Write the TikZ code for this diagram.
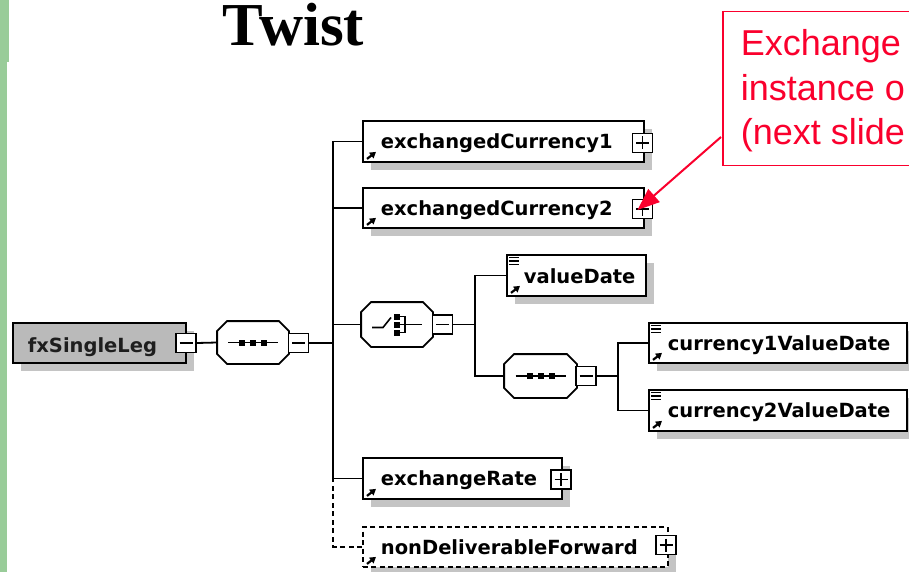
\documentclass[tikz,border=0pt]{standalone}
\usepackage{fontspec}
\setmainfont{Liberation Serif}
\newfontfamily\lblfont{DejaVu Sans}
\newfontfamily\arialfont{Liberation Sans}
\usetikzlibrary{arrows.meta,calc,shadows,backgrounds}
\definecolor{barg}{RGB}{153,204,153}
\definecolor{callred}{RGB}{250,0,45}
\definecolor{boxgrey}{RGB}{186,186,186}
\definecolor{shadowgrey}{RGB}{196,196,196}
\begin{document}
\begin{tikzpicture}[x=1pt,y=-1pt,line width=1.8pt,
  shad/.style={drop shadow={shadow xshift=8pt,shadow yshift=-8pt,fill=shadowgrey,opacity=1}},
  elem/.style={draw, fill=white, rectangle, inner sep=0pt, shad, minimum height=41pt, anchor=west, line width=1.8pt},
  pm/.style={draw, fill=white, rectangle, inner sep=0pt, minimum width=20pt, minimum height=19pt, line width=1.6pt},
  octnode/.style={rectangle, inner sep=0pt, minimum width=70pt, minimum height=42pt},
  lbl/.style={font=\lblfont\bfseries\fontsize{19.5}{22}\selectfont, inner sep=0pt, anchor=base west},
  callt/.style={font=\arialfont\fontsize{36}{40}\selectfont, text=callred, inner sep=0pt, anchor=base west},
  conn/.style={line width=1.8pt}]
\useasboundingbox (0,0) rectangle (909,572);
\clip (0,0) rectangle (909,572);

% green side bar
\fill[barg] (0,0) rectangle (9,62);
\fill[barg] (0,62) rectangle (7,572);

% title
\node[font=\bfseries\fontsize{61}{70}\selectfont, anchor=base west, inner sep=0pt] (title) at (222,46) {Twist};

% element boxes
\node[elem, fill=boxgrey, minimum width=173pt, minimum height=40pt] (fx) at (12,343) {};
\node[elem, minimum width=281pt] (ec1) at (362,141.5) {};
\node[elem, minimum width=281pt, minimum height=40pt] (ec2) at (362,208) {};
\node[elem, minimum width=139pt] (vd) at (506,275.5) {};
\node[elem, minimum width=258pt, minimum height=40pt] (c1) at (648,343) {};
\node[elem, minimum width=258pt] (c2) at (648,410.5) {};
\node[elem, minimum width=199pt] (er) at (362,478.5) {};
\node[elem, dashed, dash pattern=on 5pt off 3.5pt, minimum width=305pt, minimum height=40pt] (ndf) at (362,547) {};

% compositors (octagons)
\node[octnode, minimum height=41pt] (seq1) at (253,342.5) {};
\node[octnode, minimum height=43pt] (ch) at (397,324.5) {};
\node[octnode, minimum width=71pt] (seq2) at (540.5,376) {};
\foreach \o in {seq1,ch,seq2}{
  \fill[shadowgrey, shift={(8,8)}]
    ($(\o.north west)+(10,0)$) -- ($(\o.north east)+(-10,0)$) -- ($(\o.north east)+(0,10)$)
    -- ($(\o.south east)+(0,-10)$) -- ($(\o.south east)+(-10,0)$) -- ($(\o.south west)+(10,0)$)
    -- ($(\o.south west)+(0,-10)$) -- ($(\o.north west)+(0,10)$) -- cycle;
  \draw[fill=white, line width=1.8pt]
    ($(\o.north west)+(10,0)$) -- ($(\o.north east)+(-10,0)$) -- ($(\o.north east)+(0,10)$)
    -- ($(\o.south east)+(0,-10)$) -- ($(\o.south east)+(-10,0)$) -- ($(\o.south west)+(10,0)$)
    -- ($(\o.south west)+(0,-10)$) -- ($(\o.north west)+(0,10)$) -- cycle;
}

% sequence icons
\foreach \o in {seq1,seq2}{
  \draw[line width=1.6pt] ($(\o.center)+(-25,0)$) -- ($(\o.center)+(25,0)$);
  \foreach \dx in {-11,0,11}
    \fill ($(\o.center)+(\dx-3,-3)$) rectangle ++(6,6);
}
% choice icon
\draw[line width=1.6pt] ($(ch.center)+(-25,3)$) -- ($(ch.center)+(-14,3)$) -- ($(ch.center)+(-6,-7)$);
\foreach \dy in {-8,0,8}
  \fill ($(ch.center)+(-3,\dy-3)$) rectangle ++(6,6);
\draw[line width=1.6pt] ($(ch.center)+(0,-8)$) -- ++(8,0) -- ++(0,16) -- ++(-8,0);
\draw[line width=1.6pt] (ch.center) -- ++(25,0);

% plus / minus boxes
\node[pm] (fxm) at (186,343) {};
\node[pm] (s1m) at (298.5,343) {};
\node[pm] (ec1p) at (642.5,143) {};
\node[pm] (ec2p) at (642.5,209) {};
\node[pm] (chm) at (442.5,324.5) {};
\node[pm] (s2m) at (586,376) {};
\node[pm] (erp) at (561,479.5) {};
\node[pm] (ndfp) at (666,545) {};
\foreach \n in {fxm,s1m,ec1p,ec2p,chm,s2m,erp,ndfp}
  \draw[line width=1.6pt] ($(\n.center)+(-6.5,0)$) -- ($(\n.center)+(6.5,0)$);
\foreach \n in {ec1p,ec2p,erp,ndfp}
  \draw[line width=1.6pt] ($(\n.center)+(0,-6.5)$) -- ($(\n.center)+(0,6.5)$);

% reference arrows in element boxes
\foreach \e in {ec1,ec2,vd,c1,c2,er,ndf}
  \draw[line width=2.2pt, -{Triangle[length=6pt,width=7pt]}] ($(\e.south west)+(5,-4)$) -- ++(9,-7);
% simple-content icons
\foreach \e in {vd,c1,c2}
  \foreach \dy in {3.5,7,10.5}
    \draw[line width=1.3pt] ($(\e.north west)+(3,\dy)$) -- ++(10,0);

% labels
\node[lbl, text={rgb,255:red,30;green,30;blue,30}] (fxt) at ($(fx.west)+(15,9.5)$) {fxSingleLeg};
\node[lbl] (ec1t) at ($(ec1.west)+(18,7)$) {exchangedCurrency1};
\node[lbl] (ec2t) at ($(ec2.west)+(18,7)$) {exchangedCurrency2};
\node[lbl] (vdt) at ($(vd.west)+(17,7.5)$) {valueDate};
\node[lbl] (c1t) at ($(c1.west)+(19,7)$) {currency1ValueDate};
\node[lbl] (c2t) at ($(c2.west)+(19,7)$) {currency2ValueDate};
\node[lbl] (ert) at ($(er.west)+(18,7)$) {exchangeRate};
\node[lbl] (ndft) at ($(ndf.west)+(18,7)$) {nonDeliverableForward};

% callout
\node[draw=callred, line width=1.5pt, anchor=north west, minimum width=220pt, minimum height=154pt, inner sep=0pt] (co) at (722,11) {};
\node[callt] (cl1) at (740,56) {Exchange};
\node[callt] (cl2) at (740,100.5) {instance o};
\node[callt] (cl3) at (740,145) {(next slide};
\draw[callred, line width=2pt, -{Triangle[length=22pt,width=17pt]}] ($(co.north west)+(-1,126)$) -- ($(ec2p.center)+(-5,1)$);

% connectors
\begin{scope}[on background layer]
  \fill[white] (0,0) rectangle (909,572);
  \fill[barg] (0,0) rectangle (9,62);
  \fill[barg] (0,62) rectangle (7,572);
  \draw[conn] (fxm.east) -- (seq1.west);
  \draw[conn] (s1m.east) -- ++(24,0) coordinate (t1);
  \draw[conn] (ec1.west) -| (t1);
  \draw[conn] (ec2.west) -| (t1);
  \draw[conn] (ch.west) -| (t1);
  \draw[conn] (er.west) -| (t1);
  \draw[conn, dash pattern=on 5pt off 3.5pt] (ndf.west) -| (er.west -| t1);
  \draw[conn] (chm.east) -- ++(22,0) coordinate (t2);
  \draw[conn] (vd.west) -| (t2);
  \draw[conn] (seq2.west) -| (t2);
  \draw[conn] (s2m.east) -- ++(21,0) coordinate (t3);
  \draw[conn] (c1.west) -| (t3);
  \draw[conn] (c2.west) -| (t3);
\end{scope}
\end{tikzpicture}
\end{document}
